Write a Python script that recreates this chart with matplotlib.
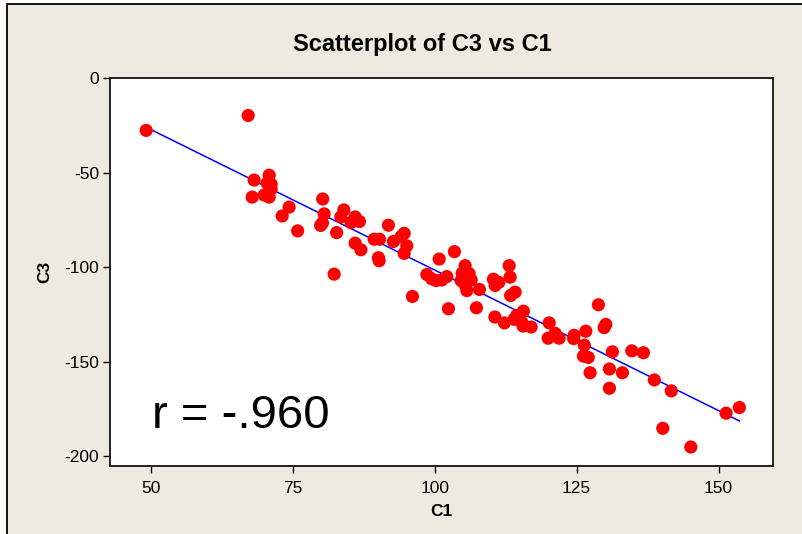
import numpy as np
import matplotlib
matplotlib.use("Agg")
import matplotlib.pyplot as plt
from matplotlib.patches import Rectangle

plt.rcParams['font.family'] = ['Liberation Sans', 'DejaVu Sans']
plt.rcParams['axes.unicode_minus'] = False

# values
c1 = [49.12, 67.10, 68.15, 67.80, 70.80, 70.44, 71.15, 71.15, 69.92, 70.80,
      74.32, 73.09, 75.82, 80.23, 80.49, 80.19, 79.87, 82.69, 83.96, 83.43,
      82.25, 85.95, 85.25, 86.71, 85.95, 86.96, 89.30, 90.24, 90.06, 90.18,
      91.82, 94.59, 94.06, 92.70, 95.06, 94.59, 96.05, 100.76, 103.45, 98.59,
      99.47, 100.23, 101.23, 102.11, 102.40, 105.34, 104.81, 106.04, 104.63, 106.40,
      105.34, 105.64, 107.86, 107.33, 113.10, 113.27, 110.33, 111.28, 110.63, 114.15,
      113.36, 110.58, 112.27, 115.61, 114.45, 113.97, 115.33, 115.56, 116.97, 120.15,
      119.97, 121.20, 121.91, 124.55, 124.46, 126.61, 126.35, 126.19, 127.05, 128.83,
      130.14, 129.84, 131.30, 134.72, 136.76, 127.37, 130.77, 133.06, 130.77, 138.69,
      141.68, 140.18, 145.12, 151.34, 153.68]
c3 = [-27.6, -19.7, -53.9, -62.9, -51.3, -55.5, -56.1, -58.7, -61.8, -62.9,
      -68.2, -72.9, -80.8, -63.9, -71.8, -76.6, -77.9, -81.7, -69.7, -73.4,
      -103.7, -73.4, -76.4, -75.8, -87.3, -90.8, -85.2, -85.2, -95.0, -96.6,
      -77.8, -82.1, -83.8, -86.4, -88.7, -92.7, -115.5, -95.7, -91.8, -103.9,
      -106.2, -107.1, -106.8, -105.0, -122.0, -99.2, -103.2, -103.4, -107.1, -106.7,
      -109.2, -112.4, -111.8, -121.5, -99.2, -105.3, -106.4, -108.0, -109.7, -113.2,
      -115.0, -126.4, -129.5, -123.3, -125.5, -127.6, -129.1, -131.2, -131.7, -129.5,
      -137.6, -135.0, -137.6, -136.1, -137.8, -133.9, -141.3, -147.1, -147.8, -119.9,
      -130.3, -132.0, -144.8, -144.3, -145.3, -155.9, -153.9, -155.9, -164.1, -159.7,
      -165.5, -185.3, -195.2, -177.3, -174.3]

x_ticks = [50, 75, 100, 125, 150]
y_ticks = [0, -50, -100, -150, -200]
r_text = "r = -.960"

x = np.array(c1)
y = np.array(c3)
slope, intercept = np.polyfit(x, y, 1)
xl = np.array([x.min(), x.max()])

bg = '#eeeae0'
fig = plt.figure(figsize=(8.03, 5.34), dpi=100, facecolor='white')
# outer panel with border on left/top (picture is cropped right/bottom)
fig.add_artist(Rectangle((7 / 803, -0.1), 1.2, 1.1 - 4.5 / 534,
                         transform=fig.transFigure, facecolor=bg,
                         edgecolor='black', lw=1.3, zorder=-10))

ax = fig.add_axes([0.1374, 0.1279, 0.8252, 0.7266])
ax.set_facecolor('white')
ax.plot(xl, intercept + slope * xl, color='#0000ff', lw=1.1, zorder=2)
ax.scatter(x, y, s=90, color='#ff0000', edgecolors='none', zorder=3)

ax.set_xlim(42.8, 159.6)
ax.set_ylim(-205.1, 0.3)
ax.set_xticks(x_ticks)
ax.set_yticks(y_ticks)
ax.tick_params(direction='out', length=5, width=1, labelsize=12.5, color='black')
ax.tick_params(axis='x', pad=6)
ax.tick_params(axis='y', pad=3)
for s in ax.spines.values():
    s.set_linewidth(1.2)
    s.set_color('black')

fig.text(422 / 803, 1 - 44 / 534, "Scatterplot of C3 vs C1", fontsize=17,
         fontweight='bold', ha='center', va='center')
ax.set_xlabel("C1", fontsize=12.5, fontweight='bold', labelpad=6)
ax.set_ylabel("C3", fontsize=12.5, fontweight='bold', labelpad=9)

ax.text(0.063, 0.097, r_text, transform=ax.transAxes, fontsize=34,
        ha='left', va='baseline')

fig.savefig("out.png", dpi=100, facecolor='white')
